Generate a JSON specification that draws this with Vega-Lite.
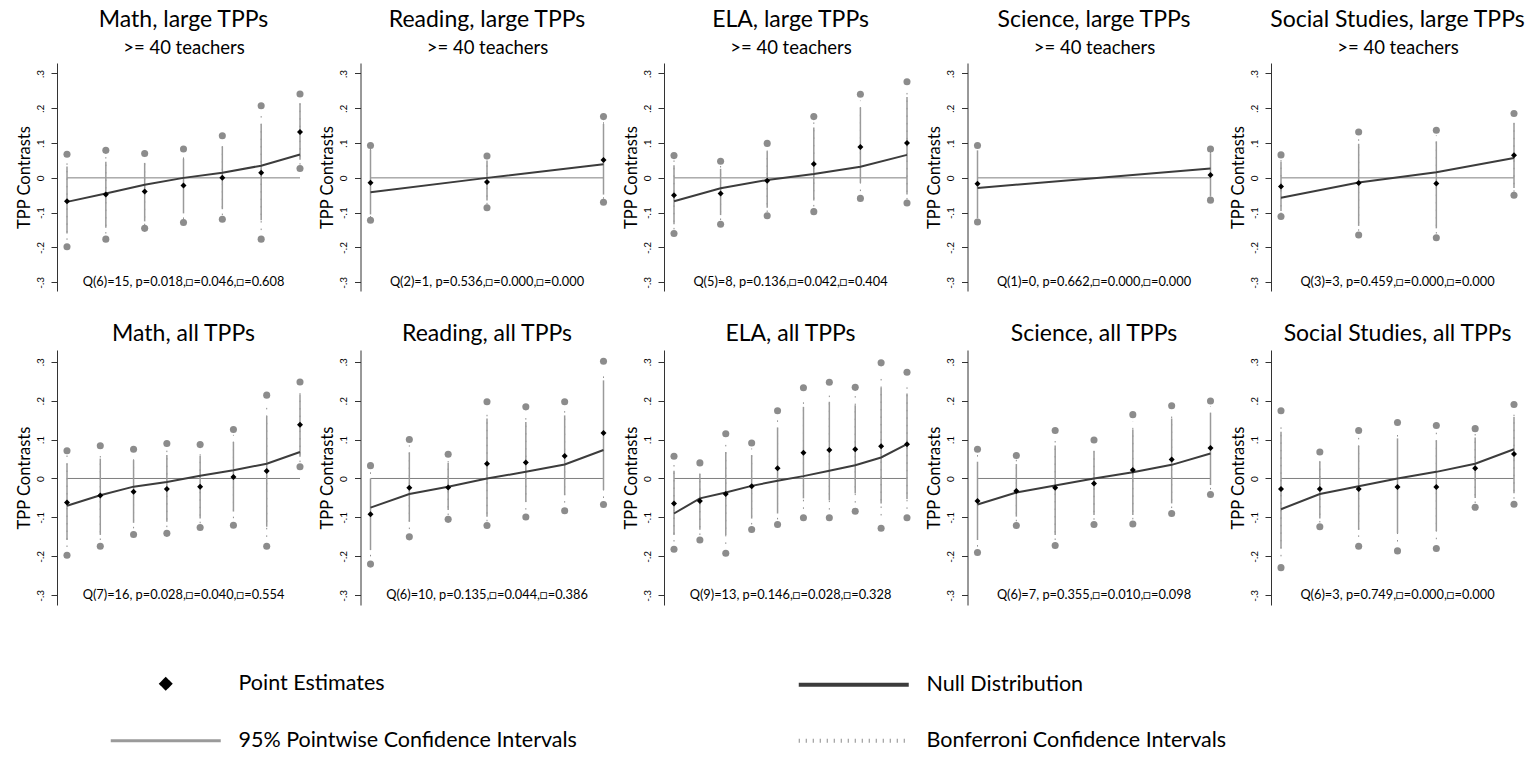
{
"$schema": "https://vega.github.io/schema/vega-lite/v6.json",
"padding": {"left": 16, "top": 9, "right": 5, "bottom": 5},
"datasets": {
"panels": [
{"p":1,"s":"Math","g":"large","stat":"Q(6)=15, p=0.018,□=0.046,□=0.608"},
{"p":2,"s":"Reading","g":"large","stat":"Q(2)=1, p=0.536,□=0.000,□=0.000"},
{"p":3,"s":"ELA","g":"large","stat":"Q(5)=8, p=0.136,□=0.042,□=0.404"},
{"p":4,"s":"Science","g":"large","stat":"Q(1)=0, p=0.662,□=0.000,□=0.000"},
{"p":5,"s":"Social Studies","g":"large","stat":"Q(3)=3, p=0.459,□=0.000,□=0.000"},
{"p":6,"s":"Math","g":"all","stat":"Q(7)=16, p=0.028,□=0.040,□=0.554"},
{"p":7,"s":"Reading","g":"all","stat":"Q(6)=10, p=0.135,□=0.044,□=0.386"},
{"p":8,"s":"ELA","g":"all","stat":"Q(9)=13, p=0.146,□=0.028,□=0.328"},
{"p":9,"s":"Science","g":"all","stat":"Q(6)=7, p=0.355,□=0.010,□=0.098"},
{"p":10,"s":"Social Studies","g":"all","stat":"Q(6)=3, p=0.749,□=0.000,□=0.000"}
],
"pts": [
{"p":1,"i":1,"e":-0.067,"n":-0.069,"lo":-0.160,"hi":0.033,"blo":-0.178,"bhi":0.052,"clo":-0.198,"chi":0.068},
{"p":1,"i":2,"e":-0.048,"n":-0.045,"lo":-0.143,"hi":0.046,"blo":-0.160,"bhi":0.064,"clo":-0.176,"chi":0.079},
{"p":1,"i":3,"e":-0.039,"n":-0.020,"lo":-0.125,"hi":0.043,"blo":-0.136,"bhi":0.058,"clo":-0.145,"chi":0.070},
{"p":1,"i":4,"e":-0.022,"n":0.000,"lo":-0.102,"hi":0.055,"blo":-0.118,"bhi":0.070,"clo":-0.128,"chi":0.083},
{"p":1,"i":5,"e":0.000,"n":0.015,"lo":-0.090,"hi":0.090,"blo":-0.107,"bhi":0.107,"clo":-0.119,"chi":0.121},
{"p":1,"i":6,"e":0.015,"n":0.035,"lo":-0.122,"hi":0.154,"blo":-0.150,"bhi":0.183,"clo":-0.176,"chi":0.207},
{"p":1,"i":7,"e":0.132,"n":0.067,"lo":0.052,"hi":0.214,"blo":0.038,"bhi":0.230,"clo":0.027,"chi":0.241},
{"p":2,"i":1,"e":-0.014,"n":-0.041,"lo":-0.105,"hi":0.081,"blo":-0.114,"bhi":0.088,"clo":-0.122,"chi":0.093},
{"p":2,"i":2,"e":-0.012,"n":0.000,"lo":-0.065,"hi":0.050,"blo":-0.076,"bhi":0.057,"clo":-0.086,"chi":0.063},
{"p":2,"i":3,"e":0.051,"n":0.039,"lo":-0.048,"hi":0.155,"blo":-0.060,"bhi":0.166,"clo":-0.070,"chi":0.176},
{"p":3,"i":1,"e":-0.050,"n":-0.067,"lo":-0.133,"hi":0.036,"blo":-0.148,"bhi":0.050,"clo":-0.160,"chi":0.064},
{"p":3,"i":2,"e":-0.045,"n":-0.030,"lo":-0.107,"hi":0.026,"blo":-0.121,"bhi":0.038,"clo":-0.133,"chi":0.048},
{"p":3,"i":3,"e":-0.008,"n":-0.006,"lo":-0.086,"hi":0.076,"blo":-0.098,"bhi":0.088,"clo":-0.109,"chi":0.099},
{"p":3,"i":4,"e":0.040,"n":0.011,"lo":-0.065,"hi":0.145,"blo":-0.082,"bhi":0.162,"clo":-0.097,"chi":0.176},
{"p":3,"i":5,"e":0.089,"n":0.032,"lo":-0.014,"hi":0.202,"blo":-0.038,"bhi":0.222,"clo":-0.059,"chi":0.240},
{"p":3,"i":6,"e":0.100,"n":0.066,"lo":-0.048,"hi":0.232,"blo":-0.062,"bhi":0.256,"clo":-0.072,"chi":0.276},
{"p":4,"i":1,"e":-0.017,"n":-0.029,"lo":-0.116,"hi":0.079,"blo":-0.122,"bhi":0.086,"clo":-0.127,"chi":0.093},
{"p":4,"i":2,"e":0.008,"n":0.027,"lo":-0.052,"hi":0.071,"blo":-0.058,"bhi":0.077,"clo":-0.064,"chi":0.083},
{"p":5,"i":1,"e":-0.025,"n":-0.057,"lo":-0.095,"hi":0.046,"blo":-0.104,"bhi":0.056,"clo":-0.111,"chi":0.066},
{"p":5,"i":2,"e":-0.015,"n":-0.013,"lo":-0.138,"hi":0.098,"blo":-0.152,"bhi":0.116,"clo":-0.164,"chi":0.132},
{"p":5,"i":3,"e":-0.016,"n":0.016,"lo":-0.145,"hi":0.105,"blo":-0.160,"bhi":0.122,"clo":-0.172,"chi":0.137},
{"p":5,"i":4,"e":0.065,"n":0.057,"lo":-0.029,"hi":0.157,"blo":-0.040,"bhi":0.172,"clo":-0.050,"chi":0.185},
{"p":6,"i":1,"e":-0.062,"n":-0.070,"lo":-0.158,"hi":0.038,"blo":-0.176,"bhi":0.060,"clo":-0.197,"chi":0.071},
{"p":6,"i":2,"e":-0.044,"n":-0.043,"lo":-0.145,"hi":0.051,"blo":-0.158,"bhi":0.070,"clo":-0.174,"chi":0.084},
{"p":6,"i":3,"e":-0.034,"n":-0.021,"lo":-0.114,"hi":0.047,"blo":-0.128,"bhi":0.063,"clo":-0.144,"chi":0.075},
{"p":6,"i":4,"e":-0.027,"n":-0.009,"lo":-0.111,"hi":0.060,"blo":-0.125,"bhi":0.076,"clo":-0.141,"chi":0.090},
{"p":6,"i":5,"e":-0.021,"n":0.007,"lo":-0.103,"hi":0.058,"blo":-0.115,"bhi":0.073,"clo":-0.126,"chi":0.087},
{"p":6,"i":6,"e":0.004,"n":0.021,"lo":-0.085,"hi":0.094,"blo":-0.102,"bhi":0.112,"clo":-0.120,"chi":0.126},
{"p":6,"i":7,"e":0.019,"n":0.038,"lo":-0.124,"hi":0.160,"blo":-0.150,"bhi":0.186,"clo":-0.174,"chi":0.214},
{"p":6,"i":8,"e":0.138,"n":0.068,"lo":0.056,"hi":0.216,"blo":0.042,"bhi":0.234,"clo":0.030,"chi":0.248},
{"p":7,"i":1,"e":-0.092,"n":-0.075,"lo":-0.184,"hi":0.000,"blo":-0.200,"bhi":0.018,"clo":-0.220,"chi":0.033},
{"p":7,"i":2,"e":-0.024,"n":-0.040,"lo":-0.111,"hi":0.067,"blo":-0.130,"bhi":0.085,"clo":-0.150,"chi":0.100},
{"p":7,"i":3,"e":-0.023,"n":-0.021,"lo":-0.081,"hi":0.040,"blo":-0.094,"bhi":0.052,"clo":-0.105,"chi":0.062},
{"p":7,"i":4,"e":0.038,"n":0.000,"lo":-0.098,"hi":0.154,"blo":-0.110,"bhi":0.178,"clo":-0.121,"chi":0.197},
{"p":7,"i":5,"e":0.041,"n":0.017,"lo":-0.060,"hi":0.145,"blo":-0.080,"bhi":0.166,"clo":-0.099,"chi":0.184},
{"p":7,"i":6,"e":0.058,"n":0.036,"lo":-0.043,"hi":0.162,"blo":-0.062,"bhi":0.182,"clo":-0.083,"chi":0.197},
{"p":7,"i":7,"e":0.117,"n":0.073,"lo":-0.030,"hi":0.252,"blo":-0.050,"bhi":0.276,"clo":-0.067,"chi":0.301},
{"p":8,"i":1,"e":-0.064,"n":-0.090,"lo":-0.145,"hi":0.020,"blo":-0.162,"bhi":0.042,"clo":-0.182,"chi":0.057},
{"p":8,"i":2,"e":-0.058,"n":-0.051,"lo":-0.132,"hi":0.011,"blo":-0.145,"bhi":0.027,"clo":-0.158,"chi":0.040},
{"p":8,"i":3,"e":-0.040,"n":-0.036,"lo":-0.145,"hi":0.068,"blo":-0.168,"bhi":0.092,"clo":-0.192,"chi":0.115},
{"p":8,"i":4,"e":-0.020,"n":-0.019,"lo":-0.103,"hi":0.060,"blo":-0.118,"bhi":0.077,"clo":-0.131,"chi":0.091},
{"p":8,"i":5,"e":0.026,"n":-0.006,"lo":-0.090,"hi":0.131,"blo":-0.105,"bhi":0.153,"clo":-0.118,"chi":0.174},
{"p":8,"i":6,"e":0.066,"n":0.006,"lo":-0.051,"hi":0.184,"blo":-0.078,"bhi":0.207,"clo":-0.101,"chi":0.233},
{"p":8,"i":7,"e":0.073,"n":0.020,"lo":-0.056,"hi":0.197,"blo":-0.080,"bhi":0.222,"clo":-0.101,"chi":0.247},
{"p":8,"i":8,"e":0.075,"n":0.034,"lo":-0.038,"hi":0.188,"blo":-0.062,"bhi":0.212,"clo":-0.084,"chi":0.234},
{"p":8,"i":9,"e":0.083,"n":0.054,"lo":-0.064,"hi":0.233,"blo":-0.095,"bhi":0.265,"clo":-0.128,"chi":0.297},
{"p":8,"i":10,"e":0.088,"n":0.088,"lo":-0.053,"hi":0.218,"blo":-0.078,"bhi":0.245,"clo":-0.101,"chi":0.273},
{"p":9,"i":1,"e":-0.058,"n":-0.067,"lo":-0.158,"hi":0.043,"blo":-0.175,"bhi":0.060,"clo":-0.190,"chi":0.075},
{"p":9,"i":2,"e":-0.032,"n":-0.036,"lo":-0.098,"hi":0.037,"blo":-0.110,"bhi":0.048,"clo":-0.121,"chi":0.059},
{"p":9,"i":3,"e":-0.024,"n":-0.018,"lo":-0.145,"hi":0.085,"blo":-0.158,"bhi":0.106,"clo":-0.172,"chi":0.123},
{"p":9,"i":4,"e":-0.013,"n":0.000,"lo":-0.094,"hi":0.070,"blo":-0.106,"bhi":0.085,"clo":-0.118,"chi":0.099},
{"p":9,"i":5,"e":0.022,"n":0.016,"lo":-0.094,"hi":0.126,"blo":-0.105,"bhi":0.146,"clo":-0.117,"chi":0.164},
{"p":9,"i":6,"e":0.049,"n":0.035,"lo":-0.064,"hi":0.154,"blo":-0.076,"bhi":0.172,"clo":-0.090,"chi":0.187},
{"p":9,"i":7,"e":0.078,"n":0.064,"lo":-0.017,"hi":0.169,"blo":-0.028,"bhi":0.185,"clo":-0.041,"chi":0.199},
{"p":10,"i":1,"e":-0.027,"n":-0.079,"lo":-0.179,"hi":0.120,"blo":-0.200,"bhi":0.145,"clo":-0.229,"chi":0.174},
{"p":10,"i":2,"e":-0.027,"n":-0.040,"lo":-0.103,"hi":0.043,"blo":-0.113,"bhi":0.056,"clo":-0.124,"chi":0.068},
{"p":10,"i":3,"e":-0.027,"n":-0.020,"lo":-0.132,"hi":0.084,"blo":-0.150,"bhi":0.105,"clo":-0.174,"chi":0.123},
{"p":10,"i":4,"e":-0.022,"n":0.000,"lo":-0.141,"hi":0.103,"blo":-0.162,"bhi":0.123,"clo":-0.186,"chi":0.144},
{"p":10,"i":5,"e":-0.022,"n":0.017,"lo":-0.135,"hi":0.098,"blo":-0.156,"bhi":0.118,"clo":-0.180,"chi":0.136},
{"p":10,"i":6,"e":0.026,"n":0.038,"lo":-0.050,"hi":0.105,"blo":-0.063,"bhi":0.118,"clo":-0.074,"chi":0.128},
{"p":10,"i":7,"e":0.063,"n":0.075,"lo":-0.038,"hi":0.158,"blo":-0.052,"bhi":0.175,"clo":-0.066,"chi":0.190}
]
},
"config": {
"font": "Lato",
"view": {"stroke": null},
"axis": {"grid": false},
"axisY": {"domainColor": "#333333", "tickColor": "#333333", "labelColor": "black", "labelFontSize": 10, "labelAngle": -90, "labelAlign": "center", "labelBaseline": "bottom", "tickSize": 6, "labelPadding": 6, "titleFontSize": 16.5, "titleFontWeight": "normal", "titleColor": "black", "titlePadding": 3},
"header": {"labelFontSize": 23, "labelColor": "black", "labelFont": "Lato", "labelPadding": 7},
"text": {"font": "Lato"}
},
"spacing": 32,
"vconcat": [
{
"data": {"name": "pts"},
"transform": [
{"lookup": "p", "from": {"data": {"name": "panels"}, "key": "p", "fields": ["s", "g", "stat"]}},
{"filter": "datum.g === 'large'"}
],
"facet": {"column": {"field": "s", "type": "nominal", "sort": ["Math", "Reading", "ELA", "Science", "Social Studies"], "header": {"title": null, "labelPadding": 6, "labelExpr": "datum.value + ', large TPPs'"}}},
"spacing": 9.5,
"resolve": {"scale": {"x": "independent"}, "axis": {"y": "independent"}},
"spec": {
"width": 253,
"height": 228,
"layer": [
{"mark": {"type": "line", "color": "#7f7f7f", "strokeWidth": 1},
 "encoding": {
  "x": {"field": "i", "type": "quantitative", "scale": {"padding": 10, "nice": false, "zero": false}, "axis": {"orient": "top", "domain": false, "ticks": false, "labels": false, "grid": false, "title": ">= 40 teachers", "titleFontSize": 18.5, "titleFontWeight": "normal", "titlePadding": 6, "titleColor": "black"}},
  "y": {"datum": 0, "type": "quantitative", "scale": {"domain": [-0.325, 0.33], "nice": false, "zero": false}, "axis": {"values": [-0.3, -0.2, -0.1, 0, 0.1, 0.2, 0.3], "labelExpr": "datum.value == 0 ? '0' : (datum.value < 0 ? '-.' : '.') + format(abs(datum.value) * 10, '.0f')", "title": "TPP Contrasts"}}
 }},
{"mark": {"type": "rule", "strokeDash": [1.5, 6], "strokeWidth": 1},
 "encoding": {
  "x": {"field": "i", "type": "quantitative", "scale": {"padding": 10, "nice": false, "zero": false}, "axis": {"orient": "top", "domain": false, "ticks": false, "labels": false, "grid": false, "title": ">= 40 teachers", "titleFontSize": 18.5, "titleFontWeight": "normal", "titlePadding": 6, "titleColor": "black"}},
  "y": {"field": "blo", "type": "quantitative", "scale": {"domain": [-0.325, 0.33], "nice": false, "zero": false}, "axis": {"values": [-0.3, -0.2, -0.1, 0, 0.1, 0.2, 0.3], "labelExpr": "datum.value == 0 ? '0' : (datum.value < 0 ? '-.' : '.') + format(abs(datum.value) * 10, '.0f')", "title": "TPP Contrasts"}},
  "y2": {"field": "bhi"},
  "color": {"datum": "Bonferroni Confidence Intervals", "scale": {"domain": ["Point Estimates", "Null Distribution", "95% Pointwise Confidence Intervals", "Bonferroni Confidence Intervals"], "range": ["#000000", "#3c3c3c", "#9a9a9a", "#8c8c8c"]},
   "legend": {"orient": "none", "legendX": 46, "legendY": 610, "columns": 2, "columnPadding": 213, "rowPadding": 33, "title": null, "values": ["Point Estimates", "95% Pointwise Confidence Intervals", "Null Distribution", "Bonferroni Confidence Intervals"], "labelFontSize": 21.5, "labelFont": "Lato", "labelColor": "black", "labelLimit": 600, "labelOffset": 62, "symbolOffset": 52, "symbolSize": 30.25,
    "encode": {"symbols": {"update": {
     "shape": {"signal": "datum.value === 'Point Estimates' ? 'diamond' : 'M-20,0H20'"},
     "size": {"signal": "datum.value === 'Point Estimates' ? 70 : 30.25"},
     "fill": {"signal": "datum.value === 'Point Estimates' ? 'black' : 'transparent'"},
     "stroke": {"signal": "datum.value === 'Point Estimates' ? 'transparent' : (datum.value === 'Null Distribution' ? '#404040' : '#8c8c8c')"},
     "strokeWidth": {"signal": "datum.value === '95% Pointwise Confidence Intervals' ? 3 : 4"},
     "strokeDash": {"signal": "datum.value === 'Bonferroni Confidence Intervals' ? [1, 6] : [1, 0]"}
    }}}}}
 }},
{"mark": {"type": "rule", "strokeWidth": 1.5},
 "encoding": {
  "x": {"field": "i", "type": "quantitative", "scale": {"padding": 10, "nice": false, "zero": false}, "axis": {"orient": "top", "domain": false, "ticks": false, "labels": false, "grid": false, "title": ">= 40 teachers", "titleFontSize": 18.5, "titleFontWeight": "normal", "titlePadding": 6, "titleColor": "black"}},
  "y": {"field": "lo", "type": "quantitative", "scale": {"domain": [-0.325, 0.33], "nice": false, "zero": false}, "axis": {"values": [-0.3, -0.2, -0.1, 0, 0.1, 0.2, 0.3], "labelExpr": "datum.value == 0 ? '0' : (datum.value < 0 ? '-.' : '.') + format(abs(datum.value) * 10, '.0f')", "title": "TPP Contrasts"}},
  "y2": {"field": "hi"},
  "color": {"datum": "95% Pointwise Confidence Intervals", "scale": {"domain": ["Point Estimates", "Null Distribution", "95% Pointwise Confidence Intervals", "Bonferroni Confidence Intervals"], "range": ["#000000", "#3c3c3c", "#9a9a9a", "#8c8c8c"]}}
 }},
{"mark": {"type": "circle", "color": "#8c8c8c", "size": 50, "opacity": 1},
 "encoding": {
  "x": {"field": "i", "type": "quantitative", "scale": {"padding": 10, "nice": false, "zero": false}, "axis": {"orient": "top", "domain": false, "ticks": false, "labels": false, "grid": false, "title": ">= 40 teachers", "titleFontSize": 18.5, "titleFontWeight": "normal", "titlePadding": 6, "titleColor": "black"}},
  "y": {"field": "clo", "type": "quantitative", "scale": {"domain": [-0.325, 0.33], "nice": false, "zero": false}, "axis": {"values": [-0.3, -0.2, -0.1, 0, 0.1, 0.2, 0.3], "labelExpr": "datum.value == 0 ? '0' : (datum.value < 0 ? '-.' : '.') + format(abs(datum.value) * 10, '.0f')", "title": "TPP Contrasts"}}
 }},
{"mark": {"type": "circle", "color": "#8c8c8c", "size": 50, "opacity": 1},
 "encoding": {
  "x": {"field": "i", "type": "quantitative", "scale": {"padding": 10, "nice": false, "zero": false}, "axis": {"orient": "top", "domain": false, "ticks": false, "labels": false, "grid": false, "title": ">= 40 teachers", "titleFontSize": 18.5, "titleFontWeight": "normal", "titlePadding": 6, "titleColor": "black"}},
  "y": {"field": "chi", "type": "quantitative", "scale": {"domain": [-0.325, 0.33], "nice": false, "zero": false}, "axis": {"values": [-0.3, -0.2, -0.1, 0, 0.1, 0.2, 0.3], "labelExpr": "datum.value == 0 ? '0' : (datum.value < 0 ? '-.' : '.') + format(abs(datum.value) * 10, '.0f')", "title": "TPP Contrasts"}}
 }},
{"mark": {"type": "line", "strokeWidth": 2},
 "encoding": {
  "x": {"field": "i", "type": "quantitative", "scale": {"padding": 10, "nice": false, "zero": false}, "axis": {"orient": "top", "domain": false, "ticks": false, "labels": false, "grid": false, "title": ">= 40 teachers", "titleFontSize": 18.5, "titleFontWeight": "normal", "titlePadding": 6, "titleColor": "black"}},
  "y": {"field": "n", "type": "quantitative", "scale": {"domain": [-0.325, 0.33], "nice": false, "zero": false}, "axis": {"values": [-0.3, -0.2, -0.1, 0, 0.1, 0.2, 0.3], "labelExpr": "datum.value == 0 ? '0' : (datum.value < 0 ? '-.' : '.') + format(abs(datum.value) * 10, '.0f')", "title": "TPP Contrasts"}},
  "color": {"datum": "Null Distribution", "scale": {"domain": ["Point Estimates", "Null Distribution", "95% Pointwise Confidence Intervals", "Bonferroni Confidence Intervals"], "range": ["#000000", "#3c3c3c", "#9a9a9a", "#8c8c8c"]}}
 }},
{"mark": {"type": "point", "shape": "diamond", "filled": true, "size": 36, "opacity": 1},
 "encoding": {
  "x": {"field": "i", "type": "quantitative", "scale": {"padding": 10, "nice": false, "zero": false}, "axis": {"orient": "top", "domain": false, "ticks": false, "labels": false, "grid": false, "title": ">= 40 teachers", "titleFontSize": 18.5, "titleFontWeight": "normal", "titlePadding": 6, "titleColor": "black"}},
  "y": {"field": "e", "type": "quantitative", "scale": {"domain": [-0.325, 0.33], "nice": false, "zero": false}, "axis": {"values": [-0.3, -0.2, -0.1, 0, 0.1, 0.2, 0.3], "labelExpr": "datum.value == 0 ? '0' : (datum.value < 0 ? '-.' : '.') + format(abs(datum.value) * 10, '.0f')", "title": "TPP Contrasts"}},
  "color": {"datum": "Point Estimates", "scale": {"domain": ["Point Estimates", "Null Distribution", "95% Pointwise Confidence Intervals", "Bonferroni Confidence Intervals"], "range": ["#000000", "#3c3c3c", "#9a9a9a", "#8c8c8c"]}}
 }},
{"mark": {"type": "text", "fontSize": 12.8, "baseline": "middle", "align": "center", "color": "black"},
 "encoding": {
  "x": {"aggregate": "mean", "field": "i", "type": "quantitative", "scale": {"padding": 10, "nice": false, "zero": false}, "axis": {"orient": "top", "domain": false, "ticks": false, "labels": false, "grid": false, "title": ">= 40 teachers", "titleFontSize": 18.5, "titleFontWeight": "normal", "titlePadding": 6, "titleColor": "black"}},
  "y": {"datum": -0.3, "type": "quantitative", "scale": {"domain": [-0.325, 0.33], "nice": false, "zero": false}, "axis": {"values": [-0.3, -0.2, -0.1, 0, 0.1, 0.2, 0.3], "labelExpr": "datum.value == 0 ? '0' : (datum.value < 0 ? '-.' : '.') + format(abs(datum.value) * 10, '.0f')", "title": "TPP Contrasts"}},
  "text": {"field": "stat", "type": "nominal"}
 }}
]
}
},
{
"data": {"name": "pts"},
"transform": [
{"lookup": "p", "from": {"data": {"name": "panels"}, "key": "p", "fields": ["s", "g", "stat"]}},
{"filter": "datum.g === 'all'"}
],
"facet": {"column": {"field": "s", "type": "nominal", "sort": ["Math", "Reading", "ELA", "Science", "Social Studies"], "header": {"title": null, "labelPadding": 4, "labelExpr": "datum.value + ', all TPPs'"}}},
"spacing": 9.5,
"resolve": {"scale": {"x": "independent"}, "axis": {"y": "independent"}},
"spec": {
"width": 253,
"height": 255,
"layer": [
{"mark": {"type": "line", "color": "#7f7f7f", "strokeWidth": 1},
 "encoding": {
  "x": {"field": "i", "type": "quantitative", "scale": {"padding": 10, "nice": false, "zero": false}, "axis": null},
  "y": {"datum": 0, "type": "quantitative", "scale": {"domain": [-0.325, 0.33], "nice": false, "zero": false}, "axis": {"values": [-0.3, -0.2, -0.1, 0, 0.1, 0.2, 0.3], "labelExpr": "datum.value == 0 ? '0' : (datum.value < 0 ? '-.' : '.') + format(abs(datum.value) * 10, '.0f')", "title": "TPP Contrasts"}}
 }},
{"mark": {"type": "rule", "strokeDash": [1.5, 6], "strokeWidth": 1},
 "encoding": {
  "x": {"field": "i", "type": "quantitative", "scale": {"padding": 10, "nice": false, "zero": false}, "axis": null},
  "y": {"field": "blo", "type": "quantitative", "scale": {"domain": [-0.325, 0.33], "nice": false, "zero": false}, "axis": {"values": [-0.3, -0.2, -0.1, 0, 0.1, 0.2, 0.3], "labelExpr": "datum.value == 0 ? '0' : (datum.value < 0 ? '-.' : '.') + format(abs(datum.value) * 10, '.0f')", "title": "TPP Contrasts"}},
  "y2": {"field": "bhi"},
  "color": {"datum": "Bonferroni Confidence Intervals", "scale": {"domain": ["Point Estimates", "Null Distribution", "95% Pointwise Confidence Intervals", "Bonferroni Confidence Intervals"], "range": ["#000000", "#3c3c3c", "#9a9a9a", "#8c8c8c"]}}
 }},
{"mark": {"type": "rule", "strokeWidth": 1.5},
 "encoding": {
  "x": {"field": "i", "type": "quantitative", "scale": {"padding": 10, "nice": false, "zero": false}, "axis": null},
  "y": {"field": "lo", "type": "quantitative", "scale": {"domain": [-0.325, 0.33], "nice": false, "zero": false}, "axis": {"values": [-0.3, -0.2, -0.1, 0, 0.1, 0.2, 0.3], "labelExpr": "datum.value == 0 ? '0' : (datum.value < 0 ? '-.' : '.') + format(abs(datum.value) * 10, '.0f')", "title": "TPP Contrasts"}},
  "y2": {"field": "hi"},
  "color": {"datum": "95% Pointwise Confidence Intervals", "scale": {"domain": ["Point Estimates", "Null Distribution", "95% Pointwise Confidence Intervals", "Bonferroni Confidence Intervals"], "range": ["#000000", "#3c3c3c", "#9a9a9a", "#8c8c8c"]}}
 }},
{"mark": {"type": "circle", "color": "#8c8c8c", "size": 50, "opacity": 1},
 "encoding": {
  "x": {"field": "i", "type": "quantitative", "scale": {"padding": 10, "nice": false, "zero": false}, "axis": null},
  "y": {"field": "clo", "type": "quantitative", "scale": {"domain": [-0.325, 0.33], "nice": false, "zero": false}, "axis": {"values": [-0.3, -0.2, -0.1, 0, 0.1, 0.2, 0.3], "labelExpr": "datum.value == 0 ? '0' : (datum.value < 0 ? '-.' : '.') + format(abs(datum.value) * 10, '.0f')", "title": "TPP Contrasts"}}
 }},
{"mark": {"type": "circle", "color": "#8c8c8c", "size": 50, "opacity": 1},
 "encoding": {
  "x": {"field": "i", "type": "quantitative", "scale": {"padding": 10, "nice": false, "zero": false}, "axis": null},
  "y": {"field": "chi", "type": "quantitative", "scale": {"domain": [-0.325, 0.33], "nice": false, "zero": false}, "axis": {"values": [-0.3, -0.2, -0.1, 0, 0.1, 0.2, 0.3], "labelExpr": "datum.value == 0 ? '0' : (datum.value < 0 ? '-.' : '.') + format(abs(datum.value) * 10, '.0f')", "title": "TPP Contrasts"}}
 }},
{"mark": {"type": "line", "strokeWidth": 2},
 "encoding": {
  "x": {"field": "i", "type": "quantitative", "scale": {"padding": 10, "nice": false, "zero": false}, "axis": null},
  "y": {"field": "n", "type": "quantitative", "scale": {"domain": [-0.325, 0.33], "nice": false, "zero": false}, "axis": {"values": [-0.3, -0.2, -0.1, 0, 0.1, 0.2, 0.3], "labelExpr": "datum.value == 0 ? '0' : (datum.value < 0 ? '-.' : '.') + format(abs(datum.value) * 10, '.0f')", "title": "TPP Contrasts"}},
  "color": {"datum": "Null Distribution", "scale": {"domain": ["Point Estimates", "Null Distribution", "95% Pointwise Confidence Intervals", "Bonferroni Confidence Intervals"], "range": ["#000000", "#3c3c3c", "#9a9a9a", "#8c8c8c"]}}
 }},
{"mark": {"type": "point", "shape": "diamond", "filled": true, "size": 36, "opacity": 1},
 "encoding": {
  "x": {"field": "i", "type": "quantitative", "scale": {"padding": 10, "nice": false, "zero": false}, "axis": null},
  "y": {"field": "e", "type": "quantitative", "scale": {"domain": [-0.325, 0.33], "nice": false, "zero": false}, "axis": {"values": [-0.3, -0.2, -0.1, 0, 0.1, 0.2, 0.3], "labelExpr": "datum.value == 0 ? '0' : (datum.value < 0 ? '-.' : '.') + format(abs(datum.value) * 10, '.0f')", "title": "TPP Contrasts"}},
  "color": {"datum": "Point Estimates", "scale": {"domain": ["Point Estimates", "Null Distribution", "95% Pointwise Confidence Intervals", "Bonferroni Confidence Intervals"], "range": ["#000000", "#3c3c3c", "#9a9a9a", "#8c8c8c"]}}
 }},
{"mark": {"type": "text", "fontSize": 12.8, "baseline": "middle", "align": "center", "color": "black"},
 "encoding": {
  "x": {"aggregate": "mean", "field": "i", "type": "quantitative", "scale": {"padding": 10, "nice": false, "zero": false}, "axis": null},
  "y": {"datum": -0.3, "type": "quantitative", "scale": {"domain": [-0.325, 0.33], "nice": false, "zero": false}, "axis": {"values": [-0.3, -0.2, -0.1, 0, 0.1, 0.2, 0.3], "labelExpr": "datum.value == 0 ? '0' : (datum.value < 0 ? '-.' : '.') + format(abs(datum.value) * 10, '.0f')", "title": "TPP Contrasts"}},
  "text": {"field": "stat", "type": "nominal"}
 }}
]
}
}
]
}
